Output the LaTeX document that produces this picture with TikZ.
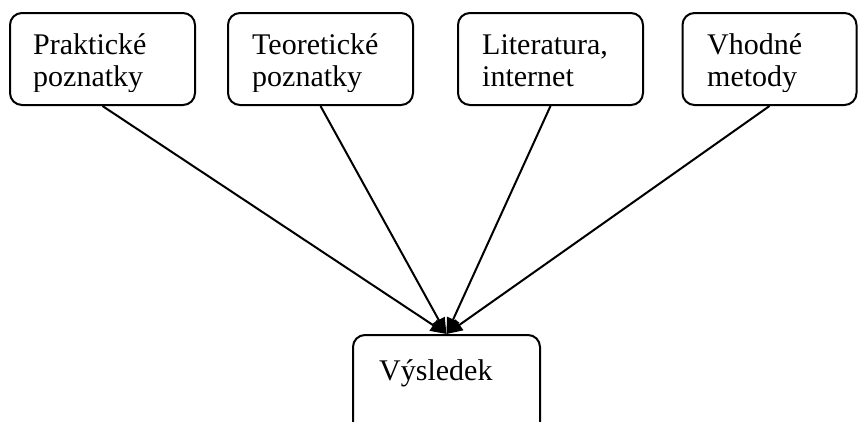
\documentclass[tikz,border=0pt]{standalone}
\usepackage{fontspec}
\setmainfont{Liberation Serif}
\usetikzlibrary{arrows.meta}
\begin{document}
\begin{tikzpicture}[x=1pt,y=-1pt,
  box/.style={draw,line width=2pt,rounded corners=12pt,inner sep=0pt,minimum width=185pt,minimum height=92pt},
  lbl/.style={anchor=base west,inner sep=0pt,align=left,font=\fontsize{30}{32}\selectfont},
  conn/.style={line width=2pt,-{Triangle[length=16pt,width=13pt]}}]
\clip (0,0) rectangle (859,421);
\fill[white] (0,0) rectangle (859,421);
\node[box] (b1) at (102.5,59) {};
\node[box] (b2) at (320.5,59) {};
\node[box] (b3) at (550.5,59) {};
\node[box, minimum width=174pt] (b4) at (769.5,59) {};
\node[box, minimum width=187pt, minimum height=140pt] (r) at (446.5,405) {};
\begin{scope}
\clip (0,0) rectangle (859,91);
\node[lbl] (t1) at (33,86.5) {Praktické\\poznatky};
\node[lbl] (t2) at (252,86.5) {Teoretické\\poznatky};
\node[lbl] (t3) at (482,86.5) {Literatura,\\internet};
\node[lbl] (t4) at (707,86.5) {Vhodné\\metody};
\end{scope}
\node[lbl] (t5) at (379,380) {Výsledek};
\draw[conn] (b1.south) -- (r.north);
\draw[conn] (b2.south) -- (r.north);
\draw[conn] (b3.south) -- (r.north);
\draw[conn] (b4.south) -- (r.north);
\end{tikzpicture}
\end{document}
